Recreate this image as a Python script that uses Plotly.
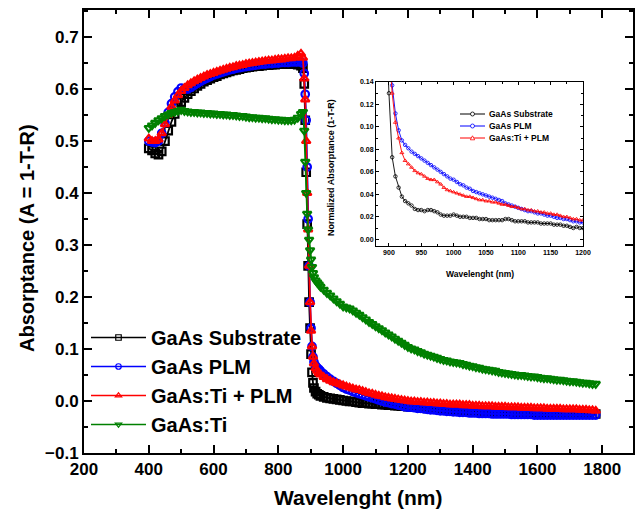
import plotly.graph_objects as go

# ---------------- main panel data ----------------
WL = [400, 410, 420, 430, 440, 450, 460, 470, 480, 490, 500, 510, 520, 530, 540, 550,
      560, 570, 580, 590, 600, 610, 620, 630, 640, 650, 660, 670, 680, 690, 700, 710,
      720, 730, 740, 750, 760, 770, 780, 790, 800, 810, 820, 830, 840, 850, 860, 870,
      876, 880, 883, 886, 889, 892, 895, 898, 901, 904, 907, 910, 915, 920, 925, 930,
      940, 950, 960, 970, 980, 990,
      1000, 1010, 1020, 1030, 1040, 1050, 1060, 1070, 1080, 1090, 1100, 1110, 1120, 1130,
      1140, 1150, 1160, 1170, 1180, 1190, 1200,
      1210, 1220, 1230, 1240, 1250, 1260, 1270, 1280, 1290, 1300,
      1310, 1320, 1330, 1340, 1350, 1360, 1370, 1380, 1390, 1400,
      1410, 1420, 1430, 1440, 1450, 1460, 1470, 1480, 1490, 1500,
      1510, 1520, 1530, 1540, 1550, 1560, 1570, 1580, 1590, 1600,
      1610, 1620, 1630, 1640, 1650, 1660, 1670, 1680, 1690, 1700,
      1710, 1720, 1730, 1740, 1750, 1760, 1770, 1780]

SUBSTRATE = [0.486, 0.482, 0.476, 0.474, 0.480, 0.500, 0.520, 0.537, 0.552, 0.565, 0.575, 0.583,
             0.590, 0.596, 0.601, 0.606, 0.610, 0.614, 0.617, 0.620, 0.623, 0.625, 0.628, 0.630,
             0.632, 0.634, 0.636, 0.637, 0.638, 0.640, 0.641, 0.642, 0.643, 0.644, 0.644, 0.645,
             0.646, 0.646, 0.647, 0.647, 0.648, 0.648, 0.648, 0.649, 0.648, 0.648, 0.647, 0.645,
             0.640, 0.610, 0.540, 0.440, 0.340, 0.260, 0.190, 0.140, 0.090, 0.055, 0.035, 0.025,
             0.018, 0.014, 0.012, 0.010, 0.008, 0.006, 0.005, 0.004, 0.003, 0.002,
             0.001, 0.000, -0.001, -0.001, -0.002, -0.003, -0.004, -0.004, -0.005, -0.005,
             -0.006, -0.006, -0.007, -0.007, -0.008, -0.008, -0.009, -0.009, -0.010, -0.010, -0.011,
             -0.011, -0.012, -0.012, -0.013, -0.013, -0.014, -0.014, -0.015, -0.015, -0.016,
             -0.016, -0.017, -0.017, -0.018, -0.018, -0.019, -0.019, -0.019, -0.020, -0.020,
             -0.020, -0.021, -0.021, -0.021, -0.021, -0.022, -0.022, -0.022, -0.022, -0.022,
             -0.023, -0.023, -0.023, -0.023, -0.023, -0.023, -0.024, -0.024, -0.024, -0.024,
             -0.024, -0.024, -0.024, -0.024, -0.025, -0.025, -0.025, -0.025, -0.025, -0.025,
             -0.025, -0.025, -0.025, -0.025, -0.025, -0.025, -0.025, -0.025]

PLM = [0.500, 0.498, 0.497, 0.500, 0.515, 0.535, 0.555, 0.572, 0.585, 0.595, 0.602, 0.600,
       0.600, 0.603, 0.607, 0.611, 0.615, 0.618, 0.621, 0.624, 0.627, 0.629, 0.631, 0.633,
       0.635, 0.637, 0.638, 0.640, 0.641, 0.642, 0.643, 0.644, 0.645, 0.646, 0.647, 0.648,
       0.648, 0.649, 0.649, 0.650, 0.650, 0.651, 0.651, 0.651, 0.652, 0.652, 0.652, 0.652,
       0.650, 0.630, 0.590, 0.540, 0.450, 0.350, 0.260, 0.190, 0.140, 0.105, 0.085, 0.075,
       0.068, 0.064, 0.061, 0.058, 0.052, 0.047, 0.042, 0.038, 0.034, 0.030,
       0.026, 0.023, 0.021, 0.018, 0.016, 0.014, 0.012, 0.010, 0.008, 0.006,
       0.004, 0.002, 0.000, -0.002, -0.003, -0.005, -0.006, -0.008, -0.009, -0.011, -0.012,
       -0.012, -0.013, -0.014, -0.014, -0.015, -0.016, -0.017, -0.017, -0.018, -0.019,
       -0.019, -0.020, -0.020, -0.021, -0.021, -0.022, -0.022, -0.022, -0.023, -0.023,
       -0.023, -0.024, -0.024, -0.024, -0.024, -0.025, -0.025, -0.025, -0.025, -0.025,
       -0.025, -0.026, -0.026, -0.026, -0.026, -0.026, -0.026, -0.026, -0.027, -0.027,
       -0.027, -0.027, -0.027, -0.027, -0.027, -0.027, -0.027, -0.027, -0.027, -0.027,
       -0.027, -0.027, -0.027, -0.027, -0.027, -0.027, -0.027, -0.027]

TI_PLM = [0.505, 0.500, 0.500, 0.503, 0.515, 0.532, 0.550, 0.566, 0.578, 0.588, 0.596, 0.602,
          0.607, 0.611, 0.615, 0.618, 0.621, 0.624, 0.627, 0.629, 0.631, 0.633, 0.635, 0.637,
          0.639, 0.641, 0.642, 0.644, 0.645, 0.646, 0.648, 0.649, 0.650, 0.651, 0.652, 0.653,
          0.654, 0.655, 0.655, 0.656, 0.657, 0.657, 0.658, 0.659, 0.659, 0.660, 0.664, 0.668,
          0.660, 0.620, 0.580, 0.500, 0.400, 0.330, 0.260, 0.190, 0.135, 0.105, 0.085, 0.072,
          0.063, 0.058, 0.054, 0.051, 0.046, 0.042, 0.039, 0.036, 0.034, 0.032,
          0.030, 0.028, 0.026, 0.024, 0.022, 0.021, 0.019, 0.017, 0.015, 0.014,
          0.012, 0.010, 0.009, 0.007, 0.006, 0.005, 0.004, 0.003, 0.002, 0.001, 0.000,
          -0.001, -0.001, -0.002, -0.002, -0.003, -0.003, -0.004, -0.004, -0.005, -0.005,
          -0.006, -0.006, -0.007, -0.007, -0.007, -0.007, -0.008, -0.008, -0.008, -0.009,
          -0.009, -0.009, -0.010, -0.010, -0.010, -0.010, -0.011, -0.011, -0.011, -0.011,
          -0.012, -0.012, -0.012, -0.012, -0.013, -0.013, -0.013, -0.013, -0.014, -0.014,
          -0.014, -0.014, -0.015, -0.015, -0.015, -0.015, -0.015, -0.016, -0.016, -0.016,
          -0.016, -0.016, -0.017, -0.017, -0.017, -0.018, -0.018, -0.019]

TI = [0.525, 0.530, 0.535, 0.540, 0.544, 0.548, 0.551, 0.554, 0.556, 0.558, 0.560, 0.558,
      0.557, 0.556, 0.556, 0.555, 0.555, 0.554, 0.554, 0.553, 0.553, 0.552, 0.552, 0.551,
      0.551, 0.550, 0.550, 0.549, 0.548, 0.548, 0.547, 0.546, 0.546, 0.545, 0.545, 0.544,
      0.544, 0.543, 0.542, 0.542, 0.541, 0.541, 0.540, 0.540, 0.540, 0.541, 0.545, 0.552,
      0.556, 0.520, 0.460, 0.400, 0.360, 0.330, 0.310, 0.290, 0.272, 0.258, 0.246, 0.238,
      0.232, 0.228, 0.224, 0.220, 0.214, 0.208, 0.203, 0.197, 0.192, 0.187,
      0.182, 0.180, 0.178, 0.174, 0.170, 0.166, 0.161, 0.157, 0.152, 0.148,
      0.144, 0.140, 0.136, 0.132, 0.128, 0.124, 0.120, 0.116, 0.112, 0.108, 0.104,
      0.101, 0.099, 0.096, 0.094, 0.091, 0.089, 0.087, 0.085, 0.083, 0.081,
      0.079, 0.078, 0.076, 0.075, 0.074, 0.073, 0.071, 0.070, 0.068, 0.067,
      0.065, 0.064, 0.062, 0.061, 0.060, 0.059, 0.058, 0.056, 0.055, 0.054,
      0.053, 0.052, 0.051, 0.050, 0.050, 0.049, 0.048, 0.047, 0.047, 0.046,
      0.045, 0.044, 0.044, 0.043, 0.042, 0.041, 0.041, 0.040, 0.039, 0.038,
      0.038, 0.037, 0.036, 0.035, 0.035, 0.034, 0.033, 0.033]

MAIN_NAMES = ["GaAs Substrate", "GaAs PLM", "GaAs:Ti + PLM", "GaAs:Ti"]

# ---------------- inset data ----------------
WL_IN = [890, 895, 900, 905, 910, 915, 920, 925, 930, 935, 940, 945, 950, 955, 960, 965, 970,
         975, 980, 985, 990, 995, 1000, 1005, 1010, 1015, 1020, 1025, 1030, 1035, 1040, 1045,
         1050, 1055, 1060, 1065, 1070, 1075, 1080, 1085, 1090, 1095, 1100, 1105, 1110, 1115,
         1120, 1125, 1130, 1135, 1140, 1145, 1150, 1155, 1160, 1165, 1170, 1175, 1180, 1185,
         1190, 1195, 1200]

SUB_IN = [0.30, 0.20, 0.13, 0.073, 0.056, 0.046, 0.038, 0.034, 0.032, 0.030, 0.027, 0.026,
          0.026, 0.025, 0.026, 0.026, 0.025, 0.024, 0.022, 0.021, 0.021, 0.021, 0.022, 0.021,
          0.020, 0.020, 0.020, 0.019, 0.019, 0.019, 0.018, 0.018, 0.018, 0.017, 0.017, 0.017,
          0.017, 0.017, 0.018, 0.018, 0.017, 0.016, 0.016, 0.016, 0.016, 0.015, 0.015, 0.015,
          0.015, 0.014, 0.014, 0.014, 0.014, 0.013, 0.013, 0.013, 0.012, 0.012, 0.011, 0.010,
          0.011, 0.010, 0.010]

PLM_IN = [0.40, 0.26, 0.18, 0.137, 0.112, 0.097, 0.088, 0.084, 0.081, 0.078, 0.076, 0.074,
          0.072, 0.070, 0.068, 0.066, 0.064, 0.062, 0.060, 0.058, 0.056, 0.054, 0.053, 0.051,
          0.049, 0.048, 0.046, 0.045, 0.043, 0.042, 0.041, 0.040, 0.039, 0.038, 0.037, 0.036,
          0.035, 0.034, 0.032, 0.031, 0.030, 0.029, 0.028, 0.027, 0.026, 0.025, 0.025, 0.024,
          0.023, 0.023, 0.022, 0.021, 0.021, 0.020, 0.019, 0.019, 0.018, 0.018, 0.017, 0.016,
          0.016, 0.015, 0.015]

TIPLM_IN = [0.38, 0.24, 0.17, 0.13, 0.104, 0.090, 0.077, 0.070, 0.067, 0.064, 0.061, 0.059,
            0.058, 0.056, 0.054, 0.053, 0.053, 0.051, 0.049, 0.046, 0.044, 0.043, 0.042, 0.041,
            0.040, 0.039, 0.038, 0.038, 0.037, 0.036, 0.035, 0.035, 0.034, 0.034, 0.033, 0.033,
            0.032, 0.031, 0.031, 0.030, 0.029, 0.029, 0.028, 0.027, 0.027, 0.026, 0.026, 0.025,
            0.025, 0.024, 0.024, 0.023, 0.023, 0.022, 0.022, 0.021, 0.020, 0.020, 0.019, 0.018,
            0.018, 0.017, 0.017]

INSET_NAMES = ["GaAs Substrate", "GaAs PLM", "GaAs:Ti + PLM"]

COLORS = ["#000000", "#0000FF", "#FF0000", "#008000"]
SYMBOLS = ["square-open", "circle-open", "triangle-up-open", "triangle-down-open"]
INSET_SYMBOLS = ["circle-open", "circle-open", "triangle-up-open"]

FONT = "Liberation Sans, Arial, sans-serif"
W, H = 635, 514

fig = go.Figure()

# main data traces (dense open markers form the thick bands)
for i, (name, ys) in enumerate(zip(MAIN_NAMES, [SUBSTRATE, PLM, TI_PLM, TI])):
    fig.add_trace(go.Scatter(
        x=WL, y=ys, name=name, mode="lines+markers", showlegend=False,
        line=dict(color=COLORS[i], width=1.8),
        marker=dict(symbol=SYMBOLS[i], size=7.5, color=COLORS[i], line=dict(width=2.2, color=COLORS[i])),
        xaxis="x", yaxis="y",
    ))

# legend-only entries (no data points) with thinner sample styling
for i, name in enumerate(MAIN_NAMES):
    fig.add_trace(go.Scatter(
        x=[None], y=[None], name=name, mode="lines+markers", showlegend=True,
        line=dict(color=COLORS[i], width=1.6),
        marker=dict(symbol=SYMBOLS[i], size=5.5, color=COLORS[i], line=dict(width=1.2, color=COLORS[i])),
        xaxis="x", yaxis="y", legendgroup=f"g{i}",
    ))

for i, (name, ys) in enumerate(zip(INSET_NAMES, [SUB_IN, PLM_IN, TIPLM_IN])):
    fig.add_trace(go.Scatter(
        x=WL_IN, y=ys, name=name, mode="lines+markers", showlegend=False,
        line=dict(color=COLORS[i], width=0.9),
        marker=dict(symbol=INSET_SYMBOLS[i], size=3.5,
                    color=COLORS[i], line=dict(width=0.8, color=COLORS[i])),
        xaxis="x2", yaxis="y2",
    ))

# plot boxes in pixels
L, R, T, B = 84, 633, 10, 453
IL, IR, IT, IB = 376, 583, 82, 246


def px_x(p):
    return p / W


def px_y(p):
    return 1 - p / H


tick_font = dict(family=FONT, size=17, color="black", weight="bold")

# hand-built inset legend (line samples with marker + label)
shapes = []
annotations = []
LEG_ROWS = [114, 126, 138]
for i, (name, yrow) in enumerate(zip(INSET_NAMES, LEG_ROWS)):
    shapes.append(dict(type="line", xref="paper", yref="paper",
                       x0=px_x(460), x1=px_x(485), y0=px_y(yrow), y1=px_y(yrow),
                       line=dict(color=COLORS[i], width=1)))
    if INSET_SYMBOLS[i] == "circle-open":
        shapes.append(dict(type="circle", xref="paper", yref="paper",
                           x0=px_x(470.5), x1=px_x(474.5), y0=px_y(yrow + 2), y1=px_y(yrow - 2),
                           fillcolor="white", line=dict(color=COLORS[i], width=0.8)))
    else:
        shapes.append(dict(type="path", xref="paper", yref="paper",
                           path=f"M {px_x(470.3)} {px_y(yrow + 1.8)} L {px_x(474.7)} {px_y(yrow + 1.8)} "
                                f"L {px_x(472.5)} {px_y(yrow - 2.2)} Z",
                           fillcolor="white", line=dict(color=COLORS[i], width=0.8)))
    annotations.append(dict(text=name, x=px_x(487), y=px_y(yrow), xref="paper", yref="paper",
                            showarrow=False, xanchor="left", yanchor="middle",
                            font=dict(family=FONT, size=8.5, color="black", weight="bold")))

annotations += [
    dict(text="Wavelenght (nm)", x=px_x(358), y=px_y(497), xref="paper", yref="paper",
         showarrow=False, xanchor="center", yanchor="middle",
         font=dict(family=FONT, size=21, color="black", weight="bold")),
    dict(text="Absorptance (A = 1-T-R)", x=px_x(27), y=px_y(238), xref="paper", yref="paper",
         showarrow=False, xanchor="center", yanchor="middle", textangle=-90,
         font=dict(family=FONT, size=20, color="black", weight="bold")),
    dict(text="Wavelenght (nm)", x=px_x(480), y=px_y(274), xref="paper", yref="paper",
         showarrow=False, xanchor="center", yanchor="middle",
         font=dict(family=FONT, size=8.5, color="black", weight="bold")),
    dict(text="Normalized Absorptance (1-T-R)", x=px_x(331), y=px_y(168), xref="paper", yref="paper",
         showarrow=False, xanchor="center", yanchor="middle", textangle=-90,
         font=dict(family=FONT, size=9, color="black", weight="bold")),
]

fig.update_layout(
    width=W, height=H,
    margin=dict(l=0, r=0, t=0, b=0),
    paper_bgcolor="white", plot_bgcolor="white",
    showlegend=True,
    xaxis=dict(
        domain=[px_x(L), px_x(R)], range=[200, 1895], anchor="y",
        tickmode="linear", tick0=200, dtick=200,
        showline=True, linecolor="black", linewidth=2, mirror="allticks",
        ticks="inside", ticklen=8, tickwidth=2, tickcolor="black",
        minor=dict(ticks="inside", dtick=100, ticklen=4, tickwidth=2, tickcolor="black", showgrid=False),
        showgrid=False, zeroline=False, tickfont=tick_font, automargin=False,
    ),
    yaxis=dict(
        domain=[px_y(B), px_y(T)], range=[-0.1, 0.752], anchor="x",
        tickmode="linear", tick0=-0.1, dtick=0.1, tickformat=".1f",
        showline=True, linecolor="black", linewidth=2, mirror="allticks",
        ticks="inside", ticklen=8, tickwidth=2, tickcolor="black",
        minor=dict(ticks="inside", dtick=0.05, ticklen=4, tickwidth=2, tickcolor="black", showgrid=False),
        showgrid=False, zeroline=False, tickfont=tick_font, automargin=False,
    ),
    xaxis2=dict(
        domain=[px_x(IL), px_x(IR)], range=[880, 1200], anchor="y2",
        tickmode="linear", tick0=900, dtick=50,
        showline=True, linecolor="black", linewidth=1, mirror="allticks",
        ticks="inside", ticklen=3, tickwidth=1, tickcolor="black",
        minor=dict(ticks="inside", dtick=25, ticklen=2, tickwidth=1, tickcolor="black", showgrid=False),
        showgrid=False, zeroline=False, automargin=False,
        tickfont=dict(family=FONT, size=7, color="black", weight="bold"),
    ),
    yaxis2=dict(
        domain=[px_y(IB), px_y(IT)], range=[-0.006, 0.14], anchor="x2",
        tickmode="linear", tick0=0, dtick=0.02, tickformat=".2f",
        showline=True, linecolor="black", linewidth=1, mirror="allticks",
        ticks="inside", ticklen=3, tickwidth=1, tickcolor="black",
        minor=dict(ticks="inside", dtick=0.01, ticklen=2, tickwidth=1, tickcolor="black", showgrid=False),
        showgrid=False, zeroline=False, automargin=False,
        tickfont=dict(family=FONT, size=7, color="black", weight="bold"),
    ),
    legend=dict(
        x=px_x(86), y=px_y(318), xanchor="left", yanchor="top",
        bgcolor="rgba(0,0,0,0)", borderwidth=0, itemwidth=55, tracegroupgap=0,
        font=dict(family=FONT, size=20, color="black", weight="bold"),
        itemclick=False, itemdoubleclick=False,
    ),
    shapes=shapes,
    annotations=annotations,
)

fig.write_html("out.html")
